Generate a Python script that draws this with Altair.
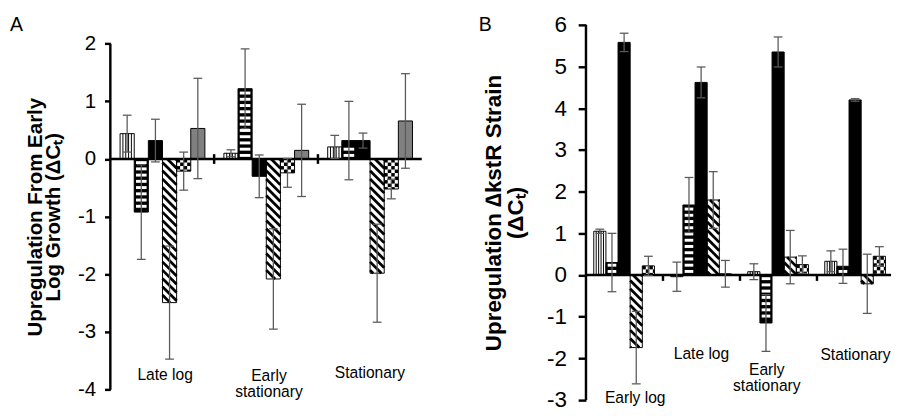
import math
import altair as alt
import pandas as pd

FONT = "Liberation Sans"

# ---------------- Panel A values ----------------
cats_A = ["Late log", "Early\nstationary", "Stationary"]
A_vert = [0.44, 0.10, 0.21]
A_horiz = [-0.92, 1.22, 0.32]
A_black = [0.32, -0.30, 0.32]
A_diag = [-2.49, -2.08, -1.98]
A_check = [-0.21, -0.24, -0.52]
A_gray = [0.53, 0.15, 0.66]
A_vert_err = [0.32, 0.06, 0.20]
A_horiz_err = [0.82, 0.69, 0.68]
A_black_err = [0.37, 0.37, 0.13]
A_diag_err = [0.98, 0.87, 0.85]
A_check_err = [0.33, 0.25, 0.17]
A_gray_err = [0.87, 0.80, 0.82]
A_ticks = [-4, -3, -2, -1, 0, 1, 2]

# ---------------- Panel B values ----------------
cats_B = ["Early log", "Late log", "Early\nstationary", "Stationary"]
B_vert = [1.05, -0.04, 0.08, 0.33]
B_horiz = [0.30, 1.68, -1.15, 0.21]
B_black = [5.58, 4.62, 5.35, 4.20]
B_diag = [-1.74, 1.80, 0.43, -0.21]
B_check = [0.22, 0.03, 0.25, 0.45]
B_gray = [0.0, 0.0, 0.0, 0.0]
B_vert_err = [0.05, 0.35, 0.19, 0.25]
B_horiz_err = [0.70, 0.66, 0.68, 0.41]
B_black_err = [0.22, 0.37, 0.36, 0.03]
B_diag_err = [0.87, 0.68, 0.64, 0.71]
B_check_err = [0.23, 0.32, 0.21, 0.23]
B_gray_err = [0.0, 0.0, 0.0, 0.0]
B_ticks = [-3, -2, -1, 0, 1, 2, 3, 4, 5, 6]

patterns = ["vertical", "horizontal", "solid", "diagonal", "checker", "gray"]

# category label placement (label y in data units, horizontal nudge in px)
A_label_y = [-3.74, -3.77, -3.72]
A_label_dx = [3, 3, 0]
B_label_y = [-2.96, -1.89, -2.28, -1.91]
B_label_dx = [11, 0, -12, 0]


def panel(cats, vals, errs, ticks, letter, ytitle, width, height, top_px,
          group_px, off_px, bw_px, label_y, label_dx, tick_fs, tick_size,
          label_pad, title_fs, title_lh, title_pad, sep_up, sep_down,
          letter_dx):
    sy = height / (max(ticks) - min(ticks))
    ydom = [min(ticks), max(ticks) + top_px / sy]
    sx = group_px
    xscale = alt.Scale(domain=[0, width / sx], nice=False, zero=False)
    yscale = alt.Scale(domain=ydom, nice=False, zero=False)

    bars, vl, wr, dg, ck, eb = [], [], [], [], [], []
    fills = {"vertical": "white", "horizontal": "black", "solid": "black",
             "diagonal": "white", "checker": "white", "gray": "#808080"}
    for s, (pat, sv, se) in enumerate(zip(patterns, vals, errs)):
        for g, (v, e) in enumerate(zip(sv, se)):
            L = g + (off_px + s * bw_px) / sx
            R = L + bw_px / sx
            xc = (L + R) / 2
            if e > 0:
                eb.append(dict(xc=xc, lo=v - e, hi=v + e,
                               xl=xc - 4.5 / sx, xr=xc + 4.5 / sx))
            if v == 0:
                continue
            bars.append(dict(L=L, R=R, y0=0.0, v=v, fill=fills[pat]))
            w = bw_px
            h = abs(v) * sy
            top = max(v, 0.0)
            sign = 1 if v > 0 else -1

            def tx(p):
                return L + p / sx

            def ty(d):
                return top - d / sy

            if pat == "vertical":
                for i in range(1, 5):
                    vl.append(dict(x=tx(w * i / 5), y=0.0, y2=v))
            elif pat == "horizontal":
                z = 2.2
                while z + 3.0 <= h - 1.2:
                    wr.append(dict(x=tx(1.8), x2=tx(w - 1.8),
                                   y=sign * z / sy, y2=sign * (z + 3.0) / sy))
                    z += 6.4
            elif pat == "diagonal":
                c = -w + 1.0
                while c < h:
                    xa = max(0.0, -c)
                    xb = min(w, h - c)
                    if xb - xa > 0.8:
                        dg.append(dict(x=tx(xa), y=ty(xa + c),
                                       x2=tx(xb), y2=ty(xb + c)))
                    c += 8.5
            elif pat == "checker":
                cs = 3.6
                ni = int(math.ceil(w / cs))
                nj = int(math.ceil(h / cs))
                for i in range(ni):
                    for j in range(nj):
                        if (i + j) % 2 == 0:
                            ck.append(dict(x=tx(i * cs), x2=tx(min((i + 1) * cs, w)),
                                           y=ty(j * cs), y2=ty(min((j + 1) * cs, h))))

    def X(f):
        return alt.X(f, type="quantitative", scale=xscale, axis=None)

    yaxis = alt.Axis(values=ticks, labelExpr="'' + datum.value",
                     labelFont=FONT, labelFontSize=tick_fs, labelColor="black",
                     labelPadding=label_pad, tickSize=tick_size, tickWidth=2.5,
                     tickColor="black", domain=False,
                     grid=False, title=ytitle, titleFont=FONT,
                     titleFontSize=title_fs, titleFontWeight="bold",
                     titleLineHeight=title_lh, titleY=top_px + height / 2,
                     titleColor="black", titlePadding=title_pad)

    def Y(f):
        return alt.Y(f, type="quantitative", scale=yscale, axis=yaxis)

    bars_df = pd.DataFrame(bars)
    base = alt.Chart(bars_df).mark_rect(strokeWidth=0).encode(
        x=X("L"), x2="R", y=Y("y0"), y2="v",
        fill=alt.Fill("fill:N", scale=None))
    vlines = alt.Chart(pd.DataFrame(vl)).mark_rule(color="black", strokeWidth=1).encode(
        x=X("x"), y=Y("y"), y2="y2")
    white = alt.Chart(pd.DataFrame(wr)).mark_rect(color="white", strokeWidth=0).encode(
        x=X("x"), x2="x2", y=Y("y"), y2="y2")
    diag = alt.Chart(pd.DataFrame(dg)).mark_rule(color="black", strokeWidth=2.8,
                                                 strokeCap="butt").encode(
        x=X("x"), x2="x2", y=Y("y"), y2="y2")
    check = alt.Chart(pd.DataFrame(ck)).mark_rect(color="black", strokeWidth=0).encode(
        x=X("x"), x2="x2", y=Y("y"), y2="y2")
    outline = alt.Chart(bars_df).mark_rect(fillOpacity=0, stroke="black",
                                           strokeWidth=1).encode(
        x=X("L"), x2="R", y=Y("y0"), y2="v")
    zero = alt.Chart(pd.DataFrame({"y": [0.0]})).mark_rule(
        color="black", strokeWidth=2.5).encode(y=Y("y"))
    axis_line = alt.Chart(pd.DataFrame({"x": [0.0], "y": [float(min(ticks))],
                                        "y2": [float(max(ticks))]})).mark_rule(
        color="black", strokeWidth=2.5).encode(x=X("x"), y=Y("y"), y2="y2")
    seps = pd.DataFrame({"x": [float(k) for k in range(1, len(cats))]})
    seps["y"] = sep_up / sy
    seps["y2"] = -sep_down / sy
    sep = alt.Chart(seps).mark_rule(color="black", strokeWidth=2.5).encode(
        x=X("x"), y=Y("y"), y2="y2")
    eb_df = pd.DataFrame(eb)
    ecol = "#5a5a5a"
    e1 = alt.Chart(eb_df).mark_rule(color=ecol, strokeWidth=1.3).encode(
        x=X("xc"), y=Y("lo"), y2="hi")
    e2 = alt.Chart(eb_df).mark_rule(color=ecol, strokeWidth=1.3).encode(
        x=X("xl"), x2="xr", y=Y("hi"))
    e3 = alt.Chart(eb_df).mark_rule(color=ecol, strokeWidth=1.3).encode(
        x=X("xl"), x2="xr", y=Y("lo"))
    lab_df = pd.DataFrame({
        "t": cats,
        "x": [g + 0.5 + dx / sx for g, dx in enumerate(label_dx)],
        "y": label_y,
    })
    labels = alt.Chart(lab_df).mark_text(font=FONT, fontSize=16, color="black",
                                         lineBreak="\n", align="center",
                                         baseline="middle", lineHeight=16).encode(
        x=X("x"), y=Y("y"), text="t:N")
    let = alt.Chart(pd.DataFrame({"t": [letter]})).mark_text(
        font=FONT, fontSize=20, color="black", align="left",
        baseline="middle").encode(x=alt.value(letter_dx), y=alt.value(0),
                                  text="t:N")
    return alt.layer(base, vlines, white, diag, check, outline, zero, axis_line,
                     sep, e1, e2, e3, labels, let).properties(
        width=width, height=height + top_px)


pA = panel(cats_A,
           [A_vert, A_horiz, A_black, A_diag, A_check, A_gray],
           [A_vert_err, A_horiz_err, A_black_err, A_diag_err, A_check_err, A_gray_err],
           A_ticks, "A", ["Upregulation From Early", "Log Growth (ΔCₜ)"],
           width=319.5, height=355, top_px=19.3, group_px=106.5, off_px=10,
           bw_px=14.5, label_y=A_label_y, label_dx=A_label_dx, tick_fs=21,
           tick_size=6, label_pad=9, title_fs=21, title_lh=19, title_pad=14,
           sep_up=5, sep_down=5, letter_dx=-103)

pB = panel(cats_B,
           [B_vert, B_horiz, B_black, B_diag, B_check, B_gray],
           [B_vert_err, B_horiz_err, B_black_err, B_diag_err, B_check_err, B_gray_err],
           B_ticks, "B", ["Upregulation ∆kstR Strain", "(ΔCₜ)"],
           width=313, height=385, top_px=0, group_px=79, off_px=8,
           bw_px=12.45, label_y=B_label_y, label_dx=B_label_dx, tick_fs=23,
           tick_size=8, label_pad=12, title_fs=23, title_lh=22, title_pad=20,
           sep_up=0, sep_down=6, letter_dx=-110)

chart = alt.hconcat(pA, pB, spacing=57).properties(
    padding={"left": 2, "top": 1, "right": 0, "bottom": 0},
    background="white",
).configure_view(stroke=None)

chart.save("out.html", embed_options={"renderer": "svg", "actions": False})
